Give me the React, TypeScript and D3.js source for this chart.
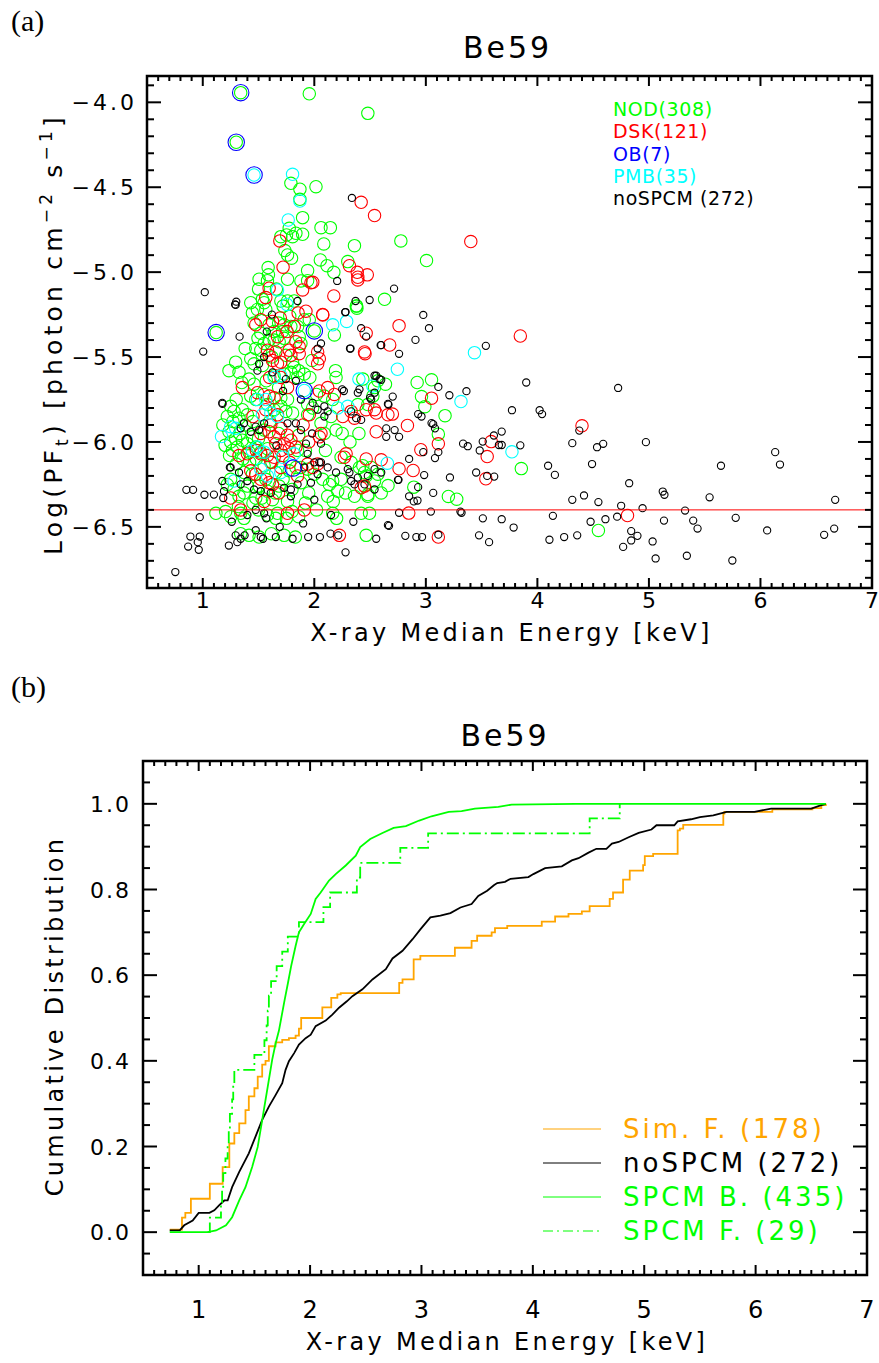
import React from 'react';
import * as d3 from 'd3';

const W = 879;
const H = 1363;
const FONT = "'DejaVu Sans', sans-serif";

// ---------- Panel (a) data: [median energy keV, log photon flux] ----------
const NOD: [number, number][] = [
  [1.955,-3.95],[2.48,-4.065],[1.34,-3.943],[1.30,-4.235],[1.12,-5.356],[2.00,-5.346],
  [1.79,-4.477],[1.871,-4.512],[2.015,-4.497],[1.871,-4.571],[1.895,-4.679],[1.775,-4.742],[1.835,-4.771],
  [1.895,-4.777],[2.06,-4.738],[2.144,-4.738],[1.70,-4.791],[1.751,-4.781],[1.805,-4.791],[2.085,-4.834],
  [2.36,-4.844],[1.736,-4.873],[1.76,-4.899],[1.796,-4.918],[2.054,-4.928],[2.114,-4.962],[2.175,-5.001],
  [1.586,-4.973],[1.589,-5.016],[1.94,-4.991],[2.30,-4.938],[2.776,-4.816],[3.006,-4.932],[2.63,-5.16],
  [2.376,-5.199],[2.382,-5.212],[1.505,-5.042],[1.76,-5.042],[1.88,-5.052],[1.94,-5.05],
  [1.43,-5.18],[1.55,-5.18],[1.565,-5.22],[1.76,-5.17],[1.82,-5.17],[2.18,-5.37],
  [2.638,-5.66],[2.922,-5.65],[3.051,-5.634],[2.961,-5.733],[2.991,-5.792],[3.172,-5.845],[3.112,-5.954],
  [3.856,-6.157],[2.661,-6.257],[2.892,-6.266],[3.202,-6.321],[3.277,-6.337],[4.547,-6.521],
  [1.535,-5.16],[1.70,-5.17],[1.91,-5.28],[1.955,-5.28],[2.38,-5.20],[1.445,-5.24],[1.49,-5.22],
  [1.595,-5.31],[1.64,-5.35],[1.715,-5.35],[1.73,-5.31],[1.79,-5.32],[1.85,-5.32],[1.495,-5.39],
  [1.55,-5.42],[1.595,-5.40],[1.64,-5.40],[1.685,-5.41],[1.73,-5.39],[1.865,-5.38],[1.88,-5.42],
  [1.475,-5.45],[1.52,-5.46],[1.745,-5.49],[1.805,-5.53],[1.82,-5.56],[1.43,-5.51],[1.46,-5.54],
  [1.535,-5.55],[1.295,-5.53],[1.325,-5.59],[1.235,-5.58],[2.19,-5.58],[2.195,-5.62],[1.91,-5.60],
  [1.85,-5.62],[1.79,-5.59],[1.73,-5.60],[1.64,-5.61],[1.415,-5.63],[2.435,-5.63],[2.54,-5.68],
  [2.525,-5.73],[2.57,-5.64],[2.09,-5.73],[2.165,-5.75],[1.43,-5.73],[1.475,-5.75],[1.55,-5.72],
  [1.70,-5.74],[1.76,-5.75],[1.25,-5.79],[1.28,-5.82],[1.355,-5.81],[1.325,-5.86],[1.40,-5.84],
  [1.58,-5.78],[1.64,-5.81],[1.70,-5.79],[1.745,-5.82],[1.805,-5.83],[1.94,-5.78],[1.985,-5.80],
  [1.94,-5.84],[2.39,-5.78],[2.48,-5.78],[2.06,-5.89],[2.09,-5.95],[2.195,-5.93],[1.235,-5.94],
  [1.295,-5.98],[1.31,-6.03],[1.265,-6.05],[1.25,-6.00],[1.355,-5.99],[1.40,-6.01],[1.445,-5.97],
  [1.475,-6.03],[1.415,-6.06],[1.52,-6.06],[1.58,-6.04],[1.37,-6.18],[1.445,-6.19],[1.565,-6.22],
  [1.655,-6.18],[1.775,-6.17],[1.835,-6.15],[1.88,-6.15],[1.94,-6.16],[2.00,-6.19],[2.075,-6.22],
  [2.135,-6.25],[2.21,-6.29],[2.12,-6.32],[2.435,-6.14],[2.45,-6.18],[2.51,-6.15],[2.465,-6.20],
  [2.57,-6.19],[2.24,-6.22],[2.36,-6.32],[2.48,-6.31],[1.25,-6.22],[1.22,-6.25],[1.28,-6.28],
  [1.325,-6.32],[1.37,-6.30],[1.40,-6.26],[1.505,-6.26],[1.58,-6.29],[1.118,-6.42],[1.205,-6.41],
  [1.25,-6.44],[1.34,-6.42],[1.37,-6.45],[2.165,-6.42],[2.17,-6.35],[2.495,-6.42],[2.48,-6.32],
  [1.34,-6.54],[1.415,-6.55],[1.505,-6.56],[1.615,-6.54],[1.73,-6.55],[1.83,-6.56],[2.465,-6.55],
  [1.685,-6.26],[1.475,-6.33],[1.625,-6.34],[1.76,-6.35],[1.67,-6.42],[1.655,-6.45],[2.24,-6.09],
  [2.33,-6.12],[2.165,-6.23],[2.405,-6.15],[2.54,-6.23],[2.60,-6.30],[2.42,-6.42],[1.50,-6.40],
  [1.58,-6.43],[1.75,-6.45],[1.80,-6.41],[1.86,-6.44],[1.60,-5.88],[1.68,-5.95],[1.55,-5.93],
  [1.72,-6.08],[1.62,-6.12],[1.85,-6.05],[1.46,-5.66],[1.57,-5.64],[1.68,-5.68],[1.18,-5.90],
  [1.22,-5.85],[1.27,-5.88],[1.33,-5.95],[1.38,-5.90],[1.45,-5.88],[1.50,-5.98],[1.36,-6.10],
  [1.30,-6.13],[1.42,-6.12],[1.48,-6.10],[1.55,-6.14],[1.24,-6.08],[1.20,-6.02],[1.32,-6.38],
  [1.45,-6.36],[1.53,-6.33],[1.65,-6.30],[1.72,-6.22],[1.80,-6.28],[1.88,-6.24],[1.95,-6.30],
  [2.02,-6.40],[1.92,-6.36],[1.62,-5.50],[1.52,-5.36],[1.68,-5.30],[1.78,-5.26],[1.86,-5.58],
  [1.96,-5.62],[2.02,-5.72],[1.98,-5.52],[1.58,-5.05],[1.66,-5.10],[1.72,-5.20],[1.50,-5.10],
  [1.46,-5.30],[1.38,-5.45],[1.35,-5.65],[1.30,-5.75],[1.86,-5.96],[1.92,-6.05],[2.10,-6.05],
  [2.15,-5.85],[2.25,-5.95],[2.32,-6.00],[2.40,-5.95],[2.28,-6.30],[2.20,-6.45],
];

const DSK: [number, number][] = [
  [2.42,-4.589],[2.54,-4.667],[1.691,-4.816],[3.403,-4.82],[1.72,-4.971],[2.315,-4.962],[2.385,-5.001],
  [2.475,-5.016],[2.39,-5.03],[1.986,-5.06],[2.175,-5.14],[2.076,-5.252],[1.895,-5.105],[1.97,-5.062],
  [2.76,-5.315],[2.676,-5.429],[3.847,-5.376],[3.051,-5.742],[2.70,-5.836],[2.835,-5.903],[4.40,-5.905],
  [3.586,-5.998],[3.55,-6.086],[3.538,-6.217],[3.112,-6.011],[2.955,-6.046],[2.76,-6.158],[2.886,-6.168],
  [2.847,-6.419],[4.808,-6.433],[3.112,-6.56],[2.60,-6.105],[1.565,-5.15],[1.595,-5.095],[1.855,-5.24],
  [2.39,-5.046],[2.465,-5.36],[2.455,-5.48],[1.925,-5.23],[2.075,-5.25],[1.695,-5.27],[1.625,-5.29],
  [1.52,-5.28],[1.475,-5.31],[1.755,-5.35],[1.82,-5.32],[1.67,-5.38],[1.835,-5.41],[1.865,-5.48],
  [1.865,-5.44],[1.58,-5.46],[1.595,-5.49],[1.655,-5.47],[1.775,-5.46],[1.79,-5.49],[1.67,-5.54],
  [1.625,-5.52],[1.70,-5.53],[2.03,-5.47],[2.045,-5.51],[2.03,-5.54],[2.45,-5.47],[1.355,-5.68],
  [2.12,-5.68],[2.045,-5.70],[2.18,-5.72],[1.49,-5.71],[1.595,-5.73],[1.64,-5.74],[1.565,-5.81],
  [1.67,-5.84],[2.255,-5.85],[2.33,-5.82],[2.36,-5.86],[2.465,-5.81],[2.54,-5.81],[2.555,-5.83],
  [1.955,-5.84],[2.06,-5.95],[2.045,-5.97],[2.555,-5.94],[1.61,-5.90],[1.595,-5.94],[1.64,-5.97],
  [1.70,-5.92],[1.76,-5.96],[1.655,-6.01],[1.73,-6.01],[1.79,-5.99],[1.775,-6.04],[1.835,-6.03],
  [1.70,-6.05],[1.58,-6.08],[1.64,-6.09],[1.52,-6.07],[1.40,-6.07],[1.325,-6.08],[2.03,-6.13],
  [1.985,-6.15],[1.94,-6.13],[1.61,-6.12],[1.70,-6.15],[1.43,-6.17],[1.475,-6.19],[1.52,-6.22],
  [1.595,-6.24],[1.625,-6.25],[2.42,-6.27],[2.285,-6.07],[2.27,-6.09],[2.465,-6.10],[1.25,-6.33],
  [1.34,-6.40],[2.225,-6.55],[2.66,-5.84],[2.45,-6.26],[1.76,-6.42],[1.91,-6.40],
  [1.45,-5.85],[1.52,-5.95],[1.48,-6.05],[1.78,-6.12],[1.85,-6.20],[1.70,-5.62],[1.76,-5.68],
  [1.60,-5.62],[1.90,-5.90],[1.95,-6.00],[1.55,-6.35],[1.68,-6.30],
];

const OB: [number, number][] = [
  [1.34,-3.943],[1.30,-4.235],[1.46,-4.428],[1.12,-5.356],[2.00,-5.346],[1.91,-5.697],[1.81,-6.154],
];

const PMB: [number, number][] = [
  [1.46,-4.428],[1.805,-4.424],[1.766,-4.693],[1.871,-4.581],[1.755,-5.19],[2.165,-5.31],[2.29,-5.29],
  [2.40,-5.63],[3.436,-5.474],[2.745,-5.572],[3.315,-5.762],[3.772,-6.058],[2.655,-6.125],[1.168,-5.968],
  [1.64,-5.62],[1.70,-5.61],[1.49,-5.75],[1.565,-5.75],[1.535,-5.84],[1.61,-5.83],[1.67,-5.85],
  [2.21,-5.80],[2.30,-5.79],[1.25,-5.91],[1.295,-5.92],[1.52,-6.16],[1.58,-6.20],[1.28,-6.23],
  [1.70,-6.18],[1.82,-6.07],[1.715,-6.09],[1.49,-6.03],[1.445,-6.05],[1.55,-6.06],[1.67,-5.105],
  [2.525,-5.67],[1.91,-5.697],
];

const NOSPCM: [number, number][] = [
  [2.337,-4.563],[2.205,-5.052],[2.715,-5.097],[2.496,-5.164],[2.277,-5.236],[2.977,-5.252],
  [3.028,-5.33],[2.907,-5.399],[2.76,-5.481],[2.60,-5.43],[3.538,-5.434],[2.60,-5.634],[3.112,-5.676],
  [3.90,-5.65],[4.724,-5.682],[3.364,-5.701],[3.211,-5.725],[2.703,-5.733],[2.66,-5.776],[3.772,-5.813],
  [4.02,-5.813],[4.042,-5.836],[2.931,-5.836],[2.961,-5.85],[3.051,-5.889],[3.066,-5.895],[3.68,-5.939],
  [3.61,-5.962],[4.376,-5.933],[3.082,-5.92],[2.72,-5.93],[2.645,-5.92],[2.76,-5.97],[2.645,-5.97],
  [3.51,-5.998],[3.655,-6.018],[3.68,-6.018],[3.483,-6.05],[3.334,-6.01],[3.376,-6.025],[3.847,-6.02],
  [4.313,-6.007],[4.535,-6.031],[4.59,-6.011],[4.973,-6.001],[2.977,-6.06],[3.112,-6.06],[3.082,-6.095],
  [2.85,-6.10],[4.096,-6.14],[4.157,-6.194],[4.49,-6.13],[6.132,-6.06],[6.175,-6.133],[5.646,-6.14],
  [4.823,-6.243],[5.124,-6.292],[5.139,-6.311],[5.544,-6.326],[6.67,-6.341],[4.313,-6.341],[4.418,-6.315],
  [4.547,-6.354],[2.985,-6.195],[2.75,-6.223],[2.755,-6.223],[3.216,-6.209],[3.451,-6.18],[3.55,-6.20],
  [3.613,-6.204],[2.931,-6.266],[3.066,-6.30],[2.85,-6.32],[2.892,-6.35],[2.925,-6.345],[4.751,-6.376],
  [4.943,-6.39],[5.324,-6.404],[3.31,-6.41],[3.32,-6.417],[2.76,-6.417],[3.045,-6.41],[4.715,-6.44],
  [4.139,-6.435],[5.778,-6.447],[3.511,-6.45],[3.68,-6.455],[3.787,-6.504],[4.477,-6.47],[4.61,-6.455],
  [5.135,-6.463],[5.397,-6.463],[5.436,-6.51],[4.841,-6.525],[4.897,-6.553],[4.841,-6.58],[2.670,-6.494],
  [2.816,-6.553],[2.915,-6.56],[2.966,-6.56],[3.112,-6.546],[3.477,-6.55],[3.567,-6.59],[4.108,-6.576],
  [4.24,-6.56],[4.357,-6.55],[4.769,-6.618],[5.033,-6.586],[5.06,-6.686],[5.34,-6.67],[5.748,-6.698],
  [6.06,-6.521],[6.571,-6.547],[6.661,-6.51],
  [1.018,-5.118],[1.30,-5.174],[1.295,-5.193],[1.004,-5.468],[1.33,-5.38],[1.177,-5.776],[0.853,-6.282],
  [0.913,-6.282],[1.015,-6.311],[0.973,-6.443],[0.889,-6.557],[0.973,-6.557],[0.869,-6.616],[0.955,-6.59],
  [0.964,-6.635],[0.754,-6.766],[1.234,-6.61],[1.85,-5.17],[2.37,-5.17],[2.28,-5.235],[2.42,-5.33],
  [2.595,-5.43],[2.32,-5.45],[1.29,-5.19],[1.574,-5.35],[2.325,-5.45],[2.465,-5.38],[2.03,-5.45],
  [2.06,-5.42],[1.55,-5.50],[1.505,-5.54],[1.49,-5.58],[1.625,-5.59],[1.745,-5.63],[1.835,-5.64],
  [2.54,-5.61],[2.405,-5.69],[2.39,-5.71],[2.25,-5.69],[2.265,-5.70],[2.51,-5.75],[1.175,-5.77],
  [1.88,-5.75],[1.985,-5.77],[2.03,-5.81],[2.09,-5.79],[2.12,-5.82],[2.42,-5.87],[2.33,-5.82],
  [2.375,-5.86],[2.50,-5.74],[2.09,-5.85],[1.37,-5.89],[1.475,-5.91],[1.34,-5.92],[1.43,-5.94],
  [1.505,-5.93],[1.55,-5.89],[1.76,-5.89],[1.835,-5.89],[1.88,-5.93],[1.925,-6.01],[1.94,-6.07],
  [1.91,-6.15],[2.00,-6.12],[2.06,-6.12],[2.195,-6.18],[2.30,-6.16],[2.39,-6.21],[2.48,-6.20],
  [2.54,-6.16],[2.33,-6.23],[2.36,-6.25],[2.45,-6.25],[2.12,-6.15],[2.03,-6.19],[1.97,-6.24],
  [1.85,-6.25],[1.79,-6.28],[1.79,-6.32],[1.73,-6.27],[1.61,-6.30],[1.52,-6.29],[1.46,-6.28],
  [1.40,-6.23],[1.34,-6.25],[1.325,-6.18],[1.25,-6.15],[1.175,-6.23],[1.19,-6.29],[1.10,-6.31],
  [1.184,-6.33],[1.243,-6.15],[1.295,-6.55],[1.34,-6.57],[1.31,-6.59],[1.375,-6.55],[1.475,-6.52],
  [1.52,-6.56],[1.54,-6.57],[1.655,-6.56],[1.805,-6.57],[1.945,-6.56],[2.145,-6.54],[2.215,-6.55],
  [2.28,-6.65],[2.555,-6.57],[2.66,-6.49],[1.40,-6.43],[1.475,-6.40],[1.55,-6.42],[2.0,-6.34],
  [2.15,-6.43],[2.665,-5.78],[2.315,-6.18],[2.54,-6.28],[2.60,-6.18],[2.54,-5.71],[2.555,-5.61],
  [2.585,-5.63],[2.06,-6.01],[2.045,-6.12],[1.66,-6.02],[1.72,-5.70],[1.62,-5.25],[1.98,-5.95],
  [1.57,-6.45],[1.90,-6.48],[1.69,-6.50],[1.26,-6.47],[2.35,-6.47],[2.05,-6.56],
];

const THRESHOLD = -6.4;

const LEGEND_A = [
  { label: 'NOD(308)', color: '#00ff00' },
  { label: 'DSK(121)', color: '#ff0000' },
  { label: 'OB(7)', color: '#0000ff' },
  { label: 'PMB(35)', color: '#00ffff' },
  { label: 'noSPCM (272)', color: '#000000' },
];

// ---------- Panel (b) data: cumulative distributions [energy, fraction] ----------
const SIM_F: [number, number][] = [
  [0.74,0.006],[0.85,0.034],[0.88,0.045],[0.93,0.078],[1.10,0.113],[1.215,0.152],[1.275,0.207],
  [1.32,0.231],[1.364,0.254],[1.42,0.285],[1.45,0.317],[1.50,0.336],[1.53,0.363],[1.57,0.391],
  [1.60,0.40],[1.63,0.434],[1.69,0.443],[1.75,0.449],[1.81,0.453],[1.87,0.459],[1.90,0.475],
  [1.92,0.50],[2.11,0.525],[2.19,0.547],[2.245,0.555],[2.275,0.558],[2.80,0.582],[2.83,0.59],
  [2.93,0.637],[2.99,0.645],[3.30,0.664],[3.45,0.68],[3.50,0.692],[3.63,0.70],[3.66,0.71],
  [3.77,0.715],[4.08,0.725],[4.20,0.737],[4.32,0.743],[4.44,0.749],[4.51,0.761],[4.69,0.778],
  [4.72,0.793],[4.81,0.823],[4.87,0.844],[4.99,0.857],[5.005,0.878],[5.08,0.883],[5.30,0.938],
  [5.32,0.942],[5.35,0.951],[5.71,0.977],[5.72,0.981],[6.15,0.987],[6.51,0.99],[6.59,0.997],[6.63,1.0],
];

const NOSPCM_CDF: [number, number][] = [
  [0.74,0.004],[0.83,0.004],[0.87,0.016],[0.946,0.027],[1.0,0.045],[1.096,0.045],[1.14,0.051],
  [1.185,0.063],[1.23,0.074],[1.26,0.074],[1.30,0.105],[1.364,0.141],[1.45,0.184],[1.51,0.223],
  [1.57,0.262],[1.63,0.293],[1.69,0.32],[1.75,0.348],[1.78,0.379],[1.81,0.399],[1.857,0.418],
  [1.90,0.438],[1.96,0.453],[2.006,0.461],[2.05,0.481],[2.14,0.494],[2.20,0.508],[2.26,0.524],
  [2.33,0.539],[2.38,0.551],[2.47,0.567],[2.56,0.59],[2.68,0.614],[2.74,0.639],[2.83,0.657],
  [2.92,0.684],[2.99,0.707],[3.08,0.735],[3.17,0.739],[3.26,0.745],[3.35,0.758],[3.45,0.766],
  [3.51,0.785],[3.59,0.797],[3.65,0.81],[3.68,0.815],[3.75,0.818],[3.80,0.825],[3.96,0.829],
  [4.005,0.836],[4.11,0.85],[4.26,0.854],[4.35,0.868],[4.41,0.873],[4.50,0.886],[4.57,0.895],
  [4.66,0.895],[4.71,0.907],[4.77,0.911],[4.86,0.922],[4.95,0.932],[5.065,0.94],[5.11,0.95],
  [5.27,0.95],[5.30,0.959],[5.42,0.964],[5.50,0.969],[5.62,0.973],[5.74,0.981],[5.99,0.981],
  [6.14,0.989],[6.50,0.989],[6.59,0.997],[6.63,1.0],
];

const SPCM_B: [number, number][] = [
  [0.74,0],[1.08,0],[1.156,0.004],[1.245,0.016],[1.30,0.035],[1.364,0.074],[1.42,0.105],[1.48,0.152],
  [1.53,0.199],[1.56,0.246],[1.59,0.293],[1.62,0.34],[1.66,0.403],[1.69,0.44],[1.72,0.47],[1.77,0.54],
  [1.80,0.58],[1.83,0.621],[1.87,0.668],[1.90,0.70],[1.945,0.719],[2.006,0.743],[2.05,0.778],
  [2.095,0.793],[2.17,0.821],[2.23,0.836],[2.32,0.856],[2.41,0.879],[2.45,0.899],[2.54,0.918],
  [2.65,0.932],[2.75,0.944],[2.86,0.948],[2.98,0.961],[3.09,0.971],[3.245,0.981],[3.36,0.983],
  [3.48,0.989],[3.69,0.993],[3.81,0.998],[4.38,1.0],[6.63,1.0],
];

const SPCM_F: [number, number][] = [
  [1.08,0],[1.10,0.034],[1.20,0.069],[1.21,0.103],[1.22,0.138],[1.24,0.172],[1.26,0.207],[1.27,0.241],
  [1.28,0.276],[1.30,0.310],[1.31,0.345],[1.32,0.379],[1.50,0.414],[1.59,0.448],[1.61,0.483],
  [1.62,0.517],[1.63,0.552],[1.65,0.586],[1.70,0.621],[1.75,0.655],[1.80,0.690],[1.90,0.724],
  [2.12,0.759],[2.18,0.793],[2.42,0.828],[2.45,0.862],[2.81,0.897],[3.06,0.931],[4.51,0.966],[4.78,1.0],
];

const LEGEND_B = [
  { label: 'Sim. F. (178)', color: '#ffa500', dash: '' },
  { label: 'noSPCM (272)', color: '#000000', dash: '' },
  { label: 'SPCM B. (435)', color: '#00ff00', dash: '' },
  { label: 'SPCM F. (29)', color: '#00ff00', dash: '10,4,2,4' },
];

const X_LABELS = ['1', '2', '3', '4', '5', '6', '7'];
const YA_LABELS = [-4.0, -4.5, -5.0, -5.5, -6.0, -6.5];
const YB_LABELS = [0.0, 0.2, 0.4, 0.6, 0.8, 1.0];

// ---------- layout ----------
const A = { l: 147, r: 872, t: 76, b: 588 };
const B = { l: 143, r: 867, t: 761, b: 1275 };

const xA = d3.scaleLinear().domain([0.5, 7]).range([A.l, A.r]);
const yA = d3.scaleLinear().domain([-6.86, -3.845]).range([A.b, A.t]);
const xB = d3.scaleLinear().domain([0.5, 7]).range([B.l, B.r]);
const yB = d3.scaleLinear().domain([-0.1, 1.1]).range([B.b, B.t]);

const minus = (s: string) => s.replace('-', '\u2212');

function Axes({ box, xs, ys, xMinor, yMinor, isXMajor, isYMajor }: any) {
  const els: any[] = [];
  xMinor.forEach((v: number, i: number) => {
    const x = xs(v);
    const len = isXMajor(v) ? 10 : 5;
    els.push(<line key={'xb' + i} x1={x} x2={x} y1={box.b} y2={box.b - len} />);
    els.push(<line key={'xt' + i} x1={x} x2={x} y1={box.t} y2={box.t + len} />);
  });
  yMinor.forEach((v: number, i: number) => {
    const y = ys(v);
    const len = isYMajor(v) ? 14 : 7;
    els.push(<line key={'yl' + i} x1={box.l} x2={box.l + len} y1={y} y2={y} />);
    els.push(<line key={'yr' + i} x1={box.r} x2={box.r - len} y1={y} y2={y} />);
  });
  return (
    <g stroke="#000" fill="none">
      <g strokeWidth={2}>{els}</g>
      <rect x={box.l} y={box.t} width={box.r - box.l} height={box.b - box.t} strokeWidth={2.5} />
    </g>
  );
}

export default function App() {
  const xMinorTicks = d3.range(6, 70).map((i) => i / 10);
  const yAMinor = d3.range(-68, -38).map((i) => i / 10);
  const yBMinor = d3.range(-1, 22).map((i) => i * 0.05);
  const isInt = (v: number) => Math.abs(v - Math.round(v)) < 1e-6;
  const isHalf = (v: number) => Math.abs(v * 2 - Math.round(v * 2)) < 1e-6;
  const isFifth = (v: number) => Math.abs(v * 5 - Math.round(v * 5)) < 1e-6;

  const lineB = d3.line<[number, number]>().x((d) => xB(d[0])).y((d) => yB(d[1]));
  const stepB = d3
    .line<[number, number]>()
    .x((d) => xB(d[0]))
    .y((d) => yB(d[1]))
    .curve(d3.curveStepAfter);

  return (
    <svg
      width={W}
      height={H}
      viewBox={`0 0 ${W} ${H}`}
      style={{ position: 'absolute', left: 0, top: 0, background: '#fff' }}
      fontFamily={FONT}
    >
      <rect x={0} y={0} width={W} height={H} fill="#fff" />

      {/* ================= Panel (a) ================= */}
      <text x={11} y={31} fontFamily="'Liberation Serif', 'Times New Roman', serif" fontSize={30}>(a)</text>
      <text x={(A.l + A.r) / 2 - 2} y={58} textAnchor="middle" fontSize={30} letterSpacing={3}>Be59</text>

      <g fill="none" strokeWidth={1.1}>
        {NOD.map((d, i) => (
          <circle key={'g' + i} cx={xA(d[0])} cy={yA(d[1])} r={6.2} stroke="#00ff00" />
        ))}
        {DSK.map((d, i) => (
          <circle key={'r' + i} cx={xA(d[0])} cy={yA(d[1])} r={6.2} stroke="#ff0000" />
        ))}
        {PMB.map((d, i) => (
          <circle key={'c' + i} cx={xA(d[0])} cy={yA(d[1])} r={6.2} stroke="#00ffff" />
        ))}
        {NOSPCM.map((d, i) => (
          <circle key={'k' + i} cx={xA(d[0])} cy={yA(d[1])} r={3.6} stroke="#000" />
        ))}
        {OB.map((d, i) => (
          <circle key={'b' + i} cx={xA(d[0])} cy={yA(d[1])} r={8.2} stroke="#0000ff" />
        ))}
      </g>
      <line x1={A.l} x2={A.r} y1={yA(THRESHOLD)} y2={yA(THRESHOLD)} stroke="#ff0000" strokeWidth={1} />

      <Axes box={A} xs={xA} ys={yA} xMinor={xMinorTicks} yMinor={yAMinor} isXMajor={isInt} isYMajor={isHalf} />

      {LEGEND_A.map((d, i) => (
        <text key={'la' + i} x={613} y={116 + i * 22.3} fontSize={19} letterSpacing={0.6} fill={d.color}>{d.label}</text>
      ))}

      {X_LABELS.map((t, i) => (
        <text key={'xa' + i} x={xA(+t)} y={608} textAnchor="middle" fontSize={22}>{t}</text>
      ))}
      {YA_LABELS.map((v, i) => (
        <text key={'ya' + i} x={137} y={yA(v) + 8} textAnchor="end" fontSize={22} letterSpacing={3}>
          {minus(v.toFixed(1))}
        </text>
      ))}
      <text x={(A.l + A.r) / 2 + 2} y={641} textAnchor="middle" fontSize={24} letterSpacing={3.3}>
        X-ray Median Energy [keV]
      </text>
      <text transform={`translate(62, ${334}) rotate(-90)`} textAnchor="middle" fontSize={25} letterSpacing={4.2}>
        Log(PF<tspan dy={6} fontSize={17}>t</tspan>
        <tspan dy={-6}>) [photon cm</tspan>
        <tspan dy={-10} fontSize={17}>{'\u22122'}</tspan>
        <tspan dy={10}> s</tspan>
        <tspan dy={-10} fontSize={17}>{'\u22121'}</tspan>
        <tspan dy={10}>]</tspan>
      </text>

      {/* ================= Panel (b) ================= */}
      <text x={11} y={697} fontFamily="'Liberation Serif', 'Times New Roman', serif" fontSize={30}>(b)</text>
      <text x={(B.l + B.r) / 2} y={746} textAnchor="middle" fontSize={30} letterSpacing={3}>Be59</text>

      <g fill="none" strokeWidth={1.8}>
        <path d={stepB(SIM_F) || ''} stroke="#ffa500" />
        <path d={lineB(NOSPCM_CDF) || ''} stroke="#000" />
        <path d={lineB(SPCM_B) || ''} stroke="#00ff00" />
        <path d={stepB(SPCM_F) || ''} stroke="#00ff00" strokeDasharray="12,4,2,4" />
      </g>

      <Axes box={B} xs={xB} ys={yB} xMinor={xMinorTicks} yMinor={yBMinor} isXMajor={isInt} isYMajor={isFifth} />

      {LEGEND_B.map((d, i) => (
        <g key={'lb' + i}>
          <line x1={543} x2={601} y1={1129 + i * 34} y2={1129 + i * 34} stroke={d.color} strokeWidth={1}
            strokeDasharray={d.dash || undefined} />
          <text x={623} y={1138 + i * 34} fontSize={26} letterSpacing={3} fill={d.color}>{d.label}</text>
        </g>
      ))}

      {X_LABELS.map((t, i) => (
        <text key={'xb' + i} x={xB(+t)} y={1318} textAnchor="middle" fontSize={24}>{t}</text>
      ))}
      {YB_LABELS.map((v, i) => (
        <text key={'yb' + i} x={131} y={yB(v) + 8} textAnchor="end" fontSize={22} letterSpacing={2}>
          {v.toFixed(1)}
        </text>
      ))}
      <text x={(B.l + B.r) / 2 + 2} y={1350} textAnchor="middle" fontSize={24} letterSpacing={3.3}>
        X-ray Median Energy [keV]
      </text>
      <text transform={`translate(63, ${1016}) rotate(-90)`} textAnchor="middle" fontSize={24} letterSpacing={3.3}>
        Cumulative Distribution
      </text>
    </svg>
  );
}
